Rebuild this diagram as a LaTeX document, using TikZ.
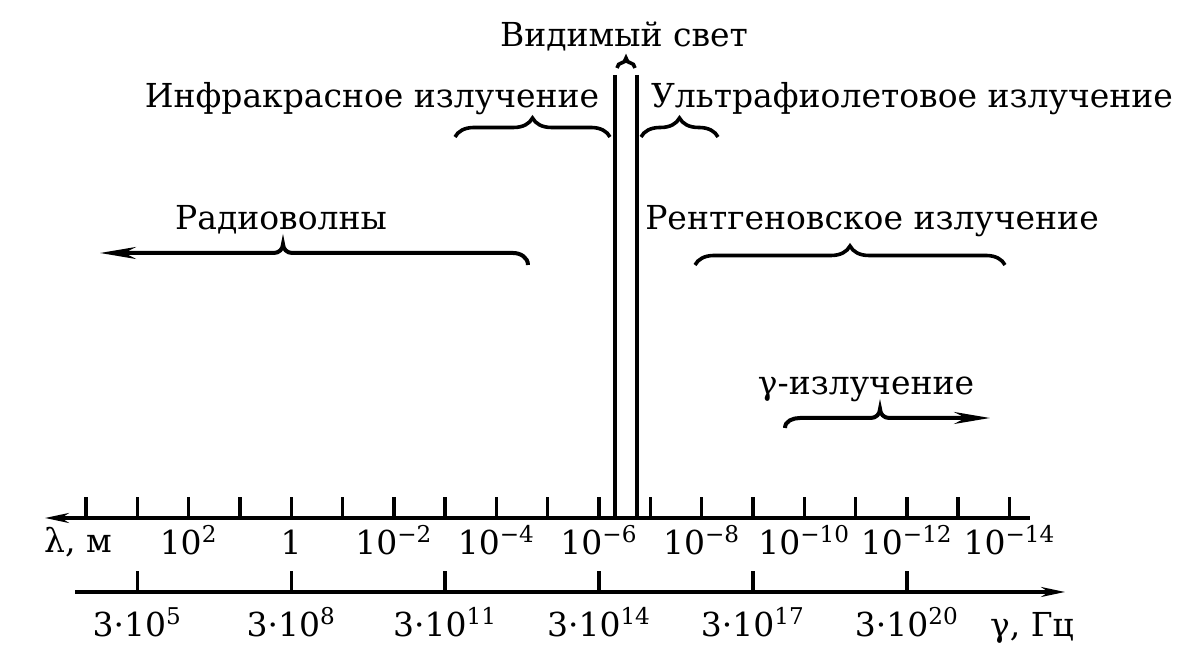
\documentclass[tikz,border=0pt]{standalone}
\usepackage{fontspec}
\setmainfont{DejaVu Serif}
\usetikzlibrary{arrows.meta, decorations.pathreplacing}
\newcommand{\pw}[1]{\textsuperscript{#1}}
\tikzset{
  specaxis/.style  = {line width=1.6pt},
  spectick/.style  = {line width=1.7pt},
  specvis/.style   = {line width=2.2pt},
  specbrace/.style = {decorate, decoration={brace, amplitude=9.5pt}, line width=1.8pt},
  specarr/.style   = {-{Stealth[length=18pt,width=6pt]}, line width=2pt},
  speclbl/.style   = {font=\fontsize{16.5}{19}\selectfont, anchor=base, inner sep=0pt},
}
\begin{document}
\begin{tikzpicture}[x=0.5pt, y=0.5pt]
    \useasboundingbox (0,0) rectangle (1188,656);
    % wavelength axis
    \coordinate (lamL) at (45,138);
    \coordinate (lamR) at (1030,138);
    \draw[specaxis, {Stealth[length=12pt,width=5pt]}-] (lamL) -- (lamR);
    \foreach \k in {0,...,18}
      \draw[spectick] ({86+51.3*\k},138) -- ++(0,21);
    \node[speclbl] (lamname) at (78,103) {λ, м};
    \foreach \k/\t in {2/10\pw{2}, 4/1, 6/10\pw{−2}, 8/10\pw{−4}, 10/10\pw{−6},
                       12/10\pw{−8}, 14/10\pw{−10}, 16/10\pw{−12}, 18/10\pw{−14}}
      \node[speclbl] (lam\k) at ({86+51.3*\k},101) {\t};
    % frequency axis
    \coordinate (frqL) at (75,64);
    \coordinate (frqR) at (1065,64);
    \draw[specaxis, -{Stealth[length=12pt,width=5pt]}] (frqL) -- (frqR);
    \foreach \k/\e in {1/5, 4/8, 7/11, 10/14, 13/17, 16/20} {
      \draw[spectick] ({86+51.3*\k},64) -- ++(0,21);
      \node[speclbl] (frq\k) at ({86+51.3*\k},19) {3·10\pw{\e}};
    }
    \node[speclbl] (frqname) at (1032,19) {γ, Гц};
    % visible light
    \coordinate (visA) at (615,581);
    \coordinate (visB) at (637,581);
    \draw[specvis] (visA) -- (615,138);
    \draw[specvis] (visB) -- (637,138);
    \draw[specbrace, decoration={amplitude=5pt}] (617,588) -- (635,588);
    \node[speclbl] (vis) at (624,609) {Видимый свет};
    % infrared and ultraviolet
    \draw[specbrace] (455,519) -- (610,519);
    \node[speclbl] (ir) at (372,548) {Инфракрасное излучение};
    \draw[specbrace] (641,519) -- (718,519);
    \node[speclbl] (uv) at (912,548) {Ультрафиолетовое излучение};
    % radio waves
    \coordinate (radR) at (528,391);
    \coordinate (radL) at (100,403);
    \draw[specarr] (radR) to[out=90,in=0] (513,403) -- (292,403)
      to[out=180,in=-90] (283,412) to[out=-90,in=0] (274,403) -- (radL);
    \node[speclbl] (radio) at (281,426) {Радиоволны};
    % x-rays
    \draw[specbrace] (695,391) -- (1005,391);
    \node[speclbl] (xray) at (872,426) {Рентгеновское излучение};
    % gamma
    \coordinate (gamL) at (785,228);
    \coordinate (gamR) at (990,238);
    \draw[specarr] (gamL) to[out=90,in=180] (800,238) -- (871,238)
      to[out=0,in=-90] (880,247) to[out=-90,in=180] (889,238) -- (gamR);
    \node[speclbl] (gamma) at (866,261) {γ-излучение};
\end{tikzpicture}
\end{document}
